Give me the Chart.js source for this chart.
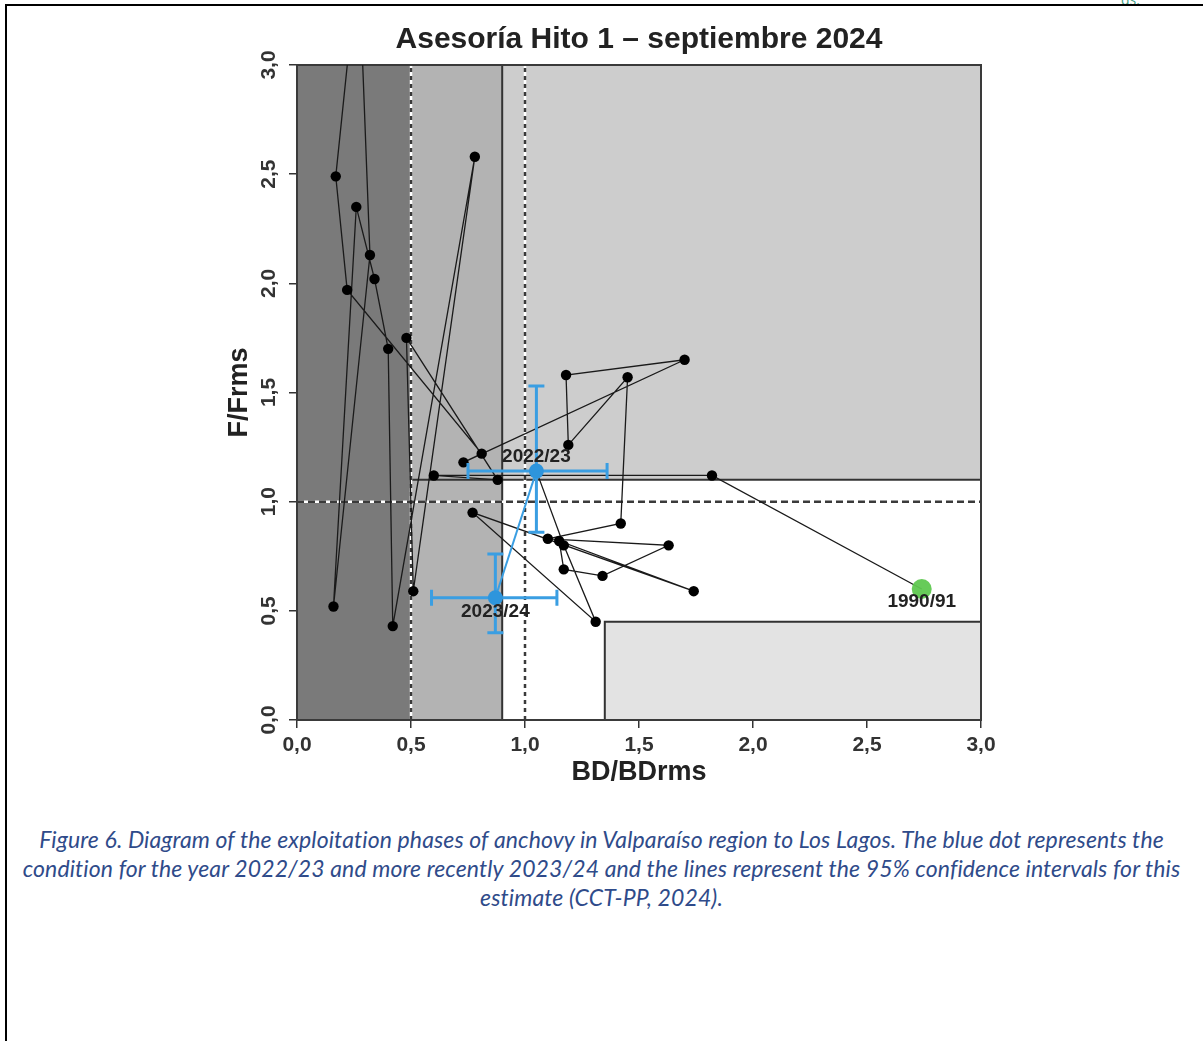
<!DOCTYPE html>
<html>
<head>
<meta charset="utf-8">
<script src="https://cdn.jsdelivr.net/npm/chart.js@4.4.1/dist/chart.umd.min.js"></script>
<style>
html,body{margin:0;padding:0;background:#fff;}
#page{position:relative;width:1203px;height:1041px;overflow:hidden;background:#fff;}
#frameTop{position:absolute;left:5px;top:4px;width:1198px;height:2px;background:#000;}
#frameLeft{position:absolute;left:5px;top:4px;width:2px;height:1040px;background:#000;}
#wrap{position:absolute;left:0;top:0;width:1203px;height:800px;}
#caption{position:absolute;left:0;top:825px;width:1203px;text-align:center;font-family:Lato,"Open Sans",sans-serif;font-style:italic;font-size:23px;letter-spacing:0.12px;line-height:29px;color:#2f4b8a;}
#corner{position:absolute;left:1121px;top:-10px;font-family:"Open Sans",sans-serif;font-size:14px;color:#3f9c80;}
</style>
</head>
<body>
<div id="page">
  <div id="corner">ds.</div>
  <div id="frameTop"></div>
  <div id="frameLeft"></div>
  <div id="wrap"><canvas id="c" width="1203" height="800"></canvas></div>
  <div id="caption">Figure 6. Diagram of the exploitation phases of anchovy in Valparaíso region to Los Lagos. The blue dot represents the<br>condition for the year 2022/23 and more recently 2023/24 and the lines represent the 95% confidence intervals for this<br>estimate (CCT-PP, 2024).</div>
</div>
<script>
// ---------- data ----------
const years = ['1990/91','1991/92','1992/93','1993/94','1994/95','1995/96','1996/97','1997/98','1998/99','1999/00',
  '2000/01','2001/02','2002/03','2003/04','2004/05','2005/06','2006/07','2007/08','2008/09','2009/10',
  '2010/11','2011/12','2012/13','2013/14','2014/15','2015/16','2016/17','2017/18','2018/19','2019/20',
  '2020/21','2021/22','2022/23','2023/24'];
const bdValues = [2.74,1.82,0.60,0.88,0.48,0.51,0.78,0.42,0.40,0.34,
  0.26,0.16,0.32,0.27,0.17,0.22,0.81,0.73,1.70,1.18,
  1.19,1.45,1.42,1.10,1.63,1.34,1.17,1.15,1.74,0.77,
  1.31,1.17,1.05,0.87];
const fValues = [0.60,1.12,1.12,1.10,1.75,0.59,2.58,0.43,1.70,2.02,
  2.35,0.52,2.13,3.50,2.49,1.97,1.22,1.18,1.65,1.58,
  1.26,1.57,0.90,0.83,0.80,0.66,0.69,0.82,0.59,0.95,
  0.45,0.80,1.14,0.56];
const tickValues = [0, 0.5, 1.0, 1.5, 2.0, 2.5, 3.0];
const xTickLabels = ['0,0','0,5','1,0','1,5','2,0','2,5','3,0'];
const yTickLabels = ['0,0','0,5','1,0','1,5','2,0','2,5','3,0'];
const labelledYears = ['1990/91','2022/23','2023/24'];
const ciYears = ['2022/23','2023/24'];
const ciBdLow = [0.75, 0.59];
const ciBdHigh = [1.36, 1.14];
const ciFLow = [0.86, 0.40];
const ciFHigh = [1.53, 0.76];
// reference points of the phase diagram
const bdLimit = 0.5, bdDepleted = 0.9, bdTarget = 1.0, bdBox = 1.35;
const fTarget = 1.0, fOver = 1.1, fBox = 0.45;

// ---------- build ----------
const pts = years.map((y,i)=>({x:bdValues[i], y:fValues[i], year:y}));
const nLast = pts.length - 1;
const blackPts = pts.slice(0, nLast);           // 1990/91 .. 2022/23 (black path)
const bluePts = pts.slice(nLast - 1);           // 2022/23 -> 2023/24
const greenPts = [pts[0]];

const BASE_FONT = '"Liberation Sans", Arial, sans-serif';

const zonePlugin = {
  id: 'zones',
  beforeDatasetsDraw(chart) {
    const {ctx, chartArea:a, scales:{x, y}} = chart;
    const X = v => x.getPixelForValue(v), Y = v => y.getPixelForValue(v);
    ctx.save();
    const rect = (x0,y0,x1,y1,c) => { ctx.fillStyle = c; ctx.fillRect(X(x0), Y(y1), X(x1)-X(x0), Y(y0)-Y(y1)); };
    rect(0,0,3,3,'#ffffff');
    rect(0,0,bdLimit,3,'#7a7a7a');
    rect(bdLimit,0,bdDepleted,3,'#b3b3b3');
    rect(bdDepleted,fOver,3,3,'#cdcdcd');
    rect(bdBox,0,3,fBox,'#e3e3e3');
    ctx.strokeStyle = '#333';
    ctx.lineWidth = 2;
    const line = (x0,y0,x1,y1) => { ctx.beginPath(); ctx.moveTo(X(x0),Y(y0)); ctx.lineTo(X(x1),Y(y1)); ctx.stroke(); };
    line(bdDepleted,0,bdDepleted,3);
    line(bdLimit,fOver,3,fOver);
    ctx.strokeRect(X(bdBox), Y(fBox), X(3)-X(bdBox), Y(0)-Y(fBox));
    // dashed reference lines with white underlay
    const dashed = (x0,y0,x1,y1,dash) => {
      ctx.setLineDash([]); ctx.strokeStyle = '#ffffff'; ctx.lineWidth = 2.5; line(x0,y0,x1,y1);
      ctx.setLineDash(dash); ctx.strokeStyle = '#3a3a3a'; ctx.lineWidth = 2.5; line(x0,y0,x1,y1);
    };
    dashed(bdLimit,0,bdLimit,3,[4,4]);
    dashed(bdTarget,0,bdTarget,3,[4,4]);
    dashed(0,fTarget,3,fTarget,[7,4]);
    ctx.setLineDash([]);
    ctx.strokeStyle = '#3a3a3a'; ctx.lineWidth = 2;
    ctx.strokeRect(a.left, a.top, a.width, a.height);
    ctx.restore();
  },
  beforeDatasetDraw(chart, args) {
    if (args.index !== 1) return;
    const {ctx, scales:{x, y}} = chart;
    const X = v => x.getPixelForValue(v), Y = v => y.getPixelForValue(v);
    ctx.save();
    ctx.strokeStyle = '#3a9ee2';
    ctx.lineWidth = 3;
    const cap = 8;
    ciYears.forEach((yr,i) => {
      const p = pts[years.indexOf(yr)];
      const px = X(p.x), py = Y(p.y);
      ctx.beginPath();
      ctx.moveTo(X(ciBdLow[i]), py); ctx.lineTo(X(ciBdHigh[i]), py);
      ctx.moveTo(X(ciBdLow[i]), py-cap); ctx.lineTo(X(ciBdLow[i]), py+cap);
      ctx.moveTo(X(ciBdHigh[i]), py-cap); ctx.lineTo(X(ciBdHigh[i]), py+cap);
      ctx.moveTo(px, Y(ciFLow[i])); ctx.lineTo(px, Y(ciFHigh[i]));
      ctx.moveTo(px-cap, Y(ciFLow[i])); ctx.lineTo(px+cap, Y(ciFLow[i]));
      ctx.moveTo(px-cap, Y(ciFHigh[i])); ctx.lineTo(px+cap, Y(ciFHigh[i]));
      ctx.stroke();
    });
    ctx.restore();
  },
  afterDatasetsDraw(chart) {
    const {ctx, scales:{x, y}} = chart;
    ctx.save();
    ctx.font = 'bold 19px ' + BASE_FONT;
    ctx.fillStyle = '#222';
    ctx.textAlign = 'center';
    ctx.textBaseline = 'middle';
    const offs = {'1990/91': 13, '2022/23': -14, '2023/24': 14};
    labelledYears.forEach(yr => {
      const p = pts[years.indexOf(yr)];
      ctx.fillText(yr, x.getPixelForValue(p.x), y.getPixelForValue(p.y) + offs[yr]);
    });
    ctx.restore();
  }
};

new Chart(document.getElementById('c'), {
  type: 'scatter',
  data: {
    datasets: [
      {
        label: 'trajectory',
        data: blackPts,
        showLine: true,
        borderColor: '#1a1a1a',
        borderWidth: 1.3,
        backgroundColor: '#000',
        pointBackgroundColor: '#000',
        pointBorderWidth: 0,
        pointRadius: ctx => (ctx.dataIndex === 0 || ctx.dataIndex === blackPts.length - 1) ? 0 : 5.2,
        tension: 0,
        clip: 0,
        order: 3
      },
      {
        label: 'recent',
        data: bluePts,
        showLine: true,
        borderColor: '#3a9ee2',
        borderWidth: 2,
        pointBackgroundColor: '#2e95dc',
        pointBorderWidth: 0,
        pointRadius: 7.5,
        clip: 0,
        order: 1
      },
      {
        label: 'first',
        data: greenPts,
        pointBackgroundColor: 'rgba(95,200,80,0.95)',
        pointBorderWidth: 0,
        pointRadius: 10,
        clip: 0,
        order: 2
      }
    ]
  },
  options: {
    responsive: false,
    animation: false,
    devicePixelRatio: 1,
    layout: { padding: { left: 0, right: 222, top: 0, bottom: 0 } },
    plugins: {
      legend: { display: false },
      tooltip: { enabled: false },
      title: {
        display: true,
        fullSize: false,
        text: 'Asesoría Hito 1 – septiembre 2024',
        color: '#222',
        font: { family: BASE_FONT, size: 30, weight: 'bold', lineHeight: 1.2 },
        padding: { top: 22, bottom: 7 }
      }
    },
    scales: {
      x: {
        type: 'linear', min: 0, max: 3,
        afterBuildTicks: s => { s.ticks = tickValues.map(v => ({value: v})); },
        afterFit: s => { s.height = 80; },
        ticks: {
          callback: (v) => xTickLabels[tickValues.indexOf(v)],
          color: '#333', autoSkip: false, maxRotation: 0, padding: 5,
          font: { family: BASE_FONT, size: 21, weight: 'bold', lineHeight: 1.2 }
        },
        grid: { drawOnChartArea: false, drawTicks: true, tickLength: 8, color: '#333', lineWidth: 1.5 },
        border: { display: false },
        title: {
          display: true, text: 'BD/BDrms', color: '#222',
          font: { family: BASE_FONT, size: 27, weight: 'bold', lineHeight: 1.2 },
          padding: { top: 0, bottom: 10.8 }
        }
      },
      y: {
        type: 'linear', min: 0, max: 3,
        afterBuildTicks: s => { s.ticks = tickValues.map(v => ({value: v})); },
        afterFit: s => { s.width = 297; },
        ticks: {
          callback: (v) => yTickLabels[tickValues.indexOf(v)],
          color: '#333', autoSkip: false, minRotation: 90, maxRotation: 90, crossAlign: 'center', padding: 5,
          font: { family: BASE_FONT, size: 21, weight: 'bold', lineHeight: 1.2 }
        },
        grid: { drawOnChartArea: false, drawTicks: true, tickLength: 8, color: '#333', lineWidth: 1.5 },
        border: { display: false },
        title: {
          display: true, text: 'F/Frms', color: '#222',
          font: { family: BASE_FONT, size: 27, weight: 'bold', lineHeight: 1.2 },
          padding: { top: 223.8, bottom: 0 }
        }
      }
    }
  },
  plugins: [zonePlugin]
});
</script>
</body>
</html>
